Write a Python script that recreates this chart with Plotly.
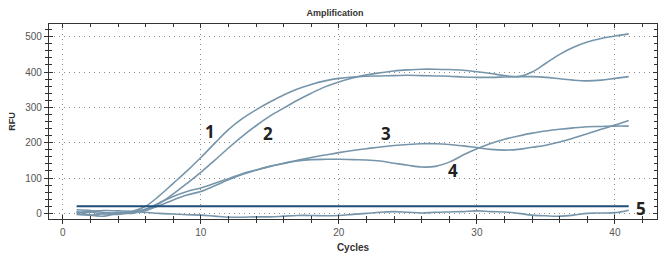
import plotly.graph_objects as go

cycles = list(range(1, 42))

curve1 = [10, 8, 2, 0, 5, 20, 50, 85, 120, 158, 198, 237, 268, 293, 315, 335, 352, 365, 375, 382,
          386, 388, 389, 390, 391, 390, 389, 388, 386, 385, 385, 386, 387, 387, 385, 381, 377, 375, 377, 382, 387]
curve2 = [-3, -5, 0, 2, 3, 10, 28, 55, 85, 116, 150, 185, 218, 248, 275, 298, 320, 340, 358, 372,
          383, 392, 398, 403, 406, 408, 408, 407, 405, 401, 396, 390, 387, 400, 425, 450, 470, 485, 495, 502, 508]
curve3 = [0, 3, -2, -3, 3, 12, 30, 48, 62, 72, 85, 98, 112, 123, 133, 142, 150, 158, 165, 172,
          178, 183, 188, 192, 195, 197, 197, 195, 191, 186, 181, 179, 181, 187, 193, 202, 213, 225, 238, 250, 263]
curve4 = [5, -5, -8, 0, 0, 8, 22, 38, 52, 62, 78, 95, 110, 122, 133, 141, 148, 152, 153, 153,
          152, 151, 148, 142, 136, 131, 133, 145, 165, 183, 198, 210, 219, 227, 233, 238, 242, 245, 246, 247, 247]
curve5 = [3, 6, 8, 7, 6, 3, 0, -2, -4, -5, -8, -11, -11, -10, -10, -8, -6, -6, -7, -6,
          -3, 0, 3, 5, 3, 1, 3, 4, 5, 7, 5, 4, 0, -5, -7, -8, -5, 0, 1, 2, 9]
threshold = [20] * len(cycles)

x_ticks = [0, 10, 20, 30, 40]
y_ticks = [0, 100, 200, 300, 400, 500]

label_text = ["1", "2", "3", "4", "5"]
label_x = [10.7, 14.85, 23.4, 28.3, 41.9]
label_y = [233, 227, 227, 120, 15]

X_RANGE = [-1, 43.05]
Y_RANGE = [-16, 536]

curve_color = "#7695ab"
fig = go.Figure()
for ys in [curve1, curve2, curve3, curve4, curve5]:
    fig.add_trace(go.Scatter(x=cycles, y=ys, mode="lines",
                             line=dict(color=curve_color, width=1.6, shape="spline"),
                             showlegend=False, hoverinfo="skip"))
fig.add_trace(go.Scatter(x=cycles, y=threshold, mode="lines",
                         line=dict(color="#1f4e79", width=2), showlegend=False))
# invisible trace so the overlay axes (inner ticks) get drawn
fig.add_trace(go.Scatter(x=cycles, y=threshold, mode="lines", xaxis="x2", yaxis="y2",
                         line=dict(color="rgba(0,0,0,0)", width=0), showlegend=False, hoverinfo="skip"))

for t, x, y in zip(label_text, label_x, label_y):
    fig.add_annotation(x=x, y=y, text="<b>%s</b>" % t, showarrow=False,
                       font=dict(family="Open Sans, Arial", size=17, color="#222222"))

tick_col = "#333333"
fig.update_layout(
    xaxis=dict(range=X_RANGE, tickmode="array", tickvals=x_ticks, automargin=False,
               showline=True, linecolor=tick_col, linewidth=1.2, mirror=True,
               ticks="outside", ticklen=4, tickcolor=tick_col,
               minor=dict(dtick=2, tick0=0, ticks="outside", ticklen=3, tickcolor=tick_col, showgrid=False),
               showgrid=True, gridcolor="#8a8a8a", griddash="1px,4px", gridwidth=1, zeroline=False,
               tickfont=dict(family="Arial", size=10, color="#555555"),
               title=dict(text="<b>Cycles</b>", font=dict(family="Arial", size=10, color="#333333"), standoff=6)),
    yaxis=dict(range=Y_RANGE, tickmode="array", tickvals=y_ticks, automargin=False,
               showline=True, linecolor=tick_col, linewidth=1.2, mirror=True,
               ticks="outside", ticklen=4, tickcolor=tick_col,
               minor=dict(dtick=20, tick0=0, ticks="outside", ticklen=3, tickcolor=tick_col, showgrid=False),
               showgrid=True, gridcolor="#8a8a8a", griddash="1px,4px", gridwidth=1, zeroline=False,
               tickfont=dict(family="Arial", size=10, color="#555555"),
               title=dict(text="<b>RFU</b>", font=dict(family="Arial", size=9, color="#333333"), standoff=8)),
    xaxis2=dict(range=X_RANGE, overlaying="x", anchor="y2", side="bottom", automargin=False,
                tickmode="array", tickvals=x_ticks, showticklabels=False, showline=False,
                ticks="inside", ticklen=4, tickcolor=tick_col, mirror="ticks",
                minor=dict(dtick=2, tick0=0, ticks="inside", ticklen=3, tickcolor=tick_col, showgrid=False),
                showgrid=False, zeroline=False),
    yaxis2=dict(range=Y_RANGE, overlaying="y", anchor="x2", side="left", automargin=False,
                tickmode="array", tickvals=y_ticks, showticklabels=False, showline=False,
                ticks="inside", ticklen=4, tickcolor=tick_col, mirror="ticks",
                minor=dict(dtick=20, tick0=0, ticks="inside", ticklen=3, tickcolor=tick_col, showgrid=False),
                showgrid=False, zeroline=False),
    width=670, height=261,
    margin=dict(l=49, r=13, t=24, b=42),
    paper_bgcolor="white", plot_bgcolor="white",
    title=dict(text="<b>Amplification</b>", x=0.5, xanchor="center", y=0.95, yanchor="middle",
               font=dict(family="Arial", size=9, color="#333333")),
)

fig.write_html("out.html", config={"displayModeBar": False},
               post_script="document.body.style.margin='0px';")
